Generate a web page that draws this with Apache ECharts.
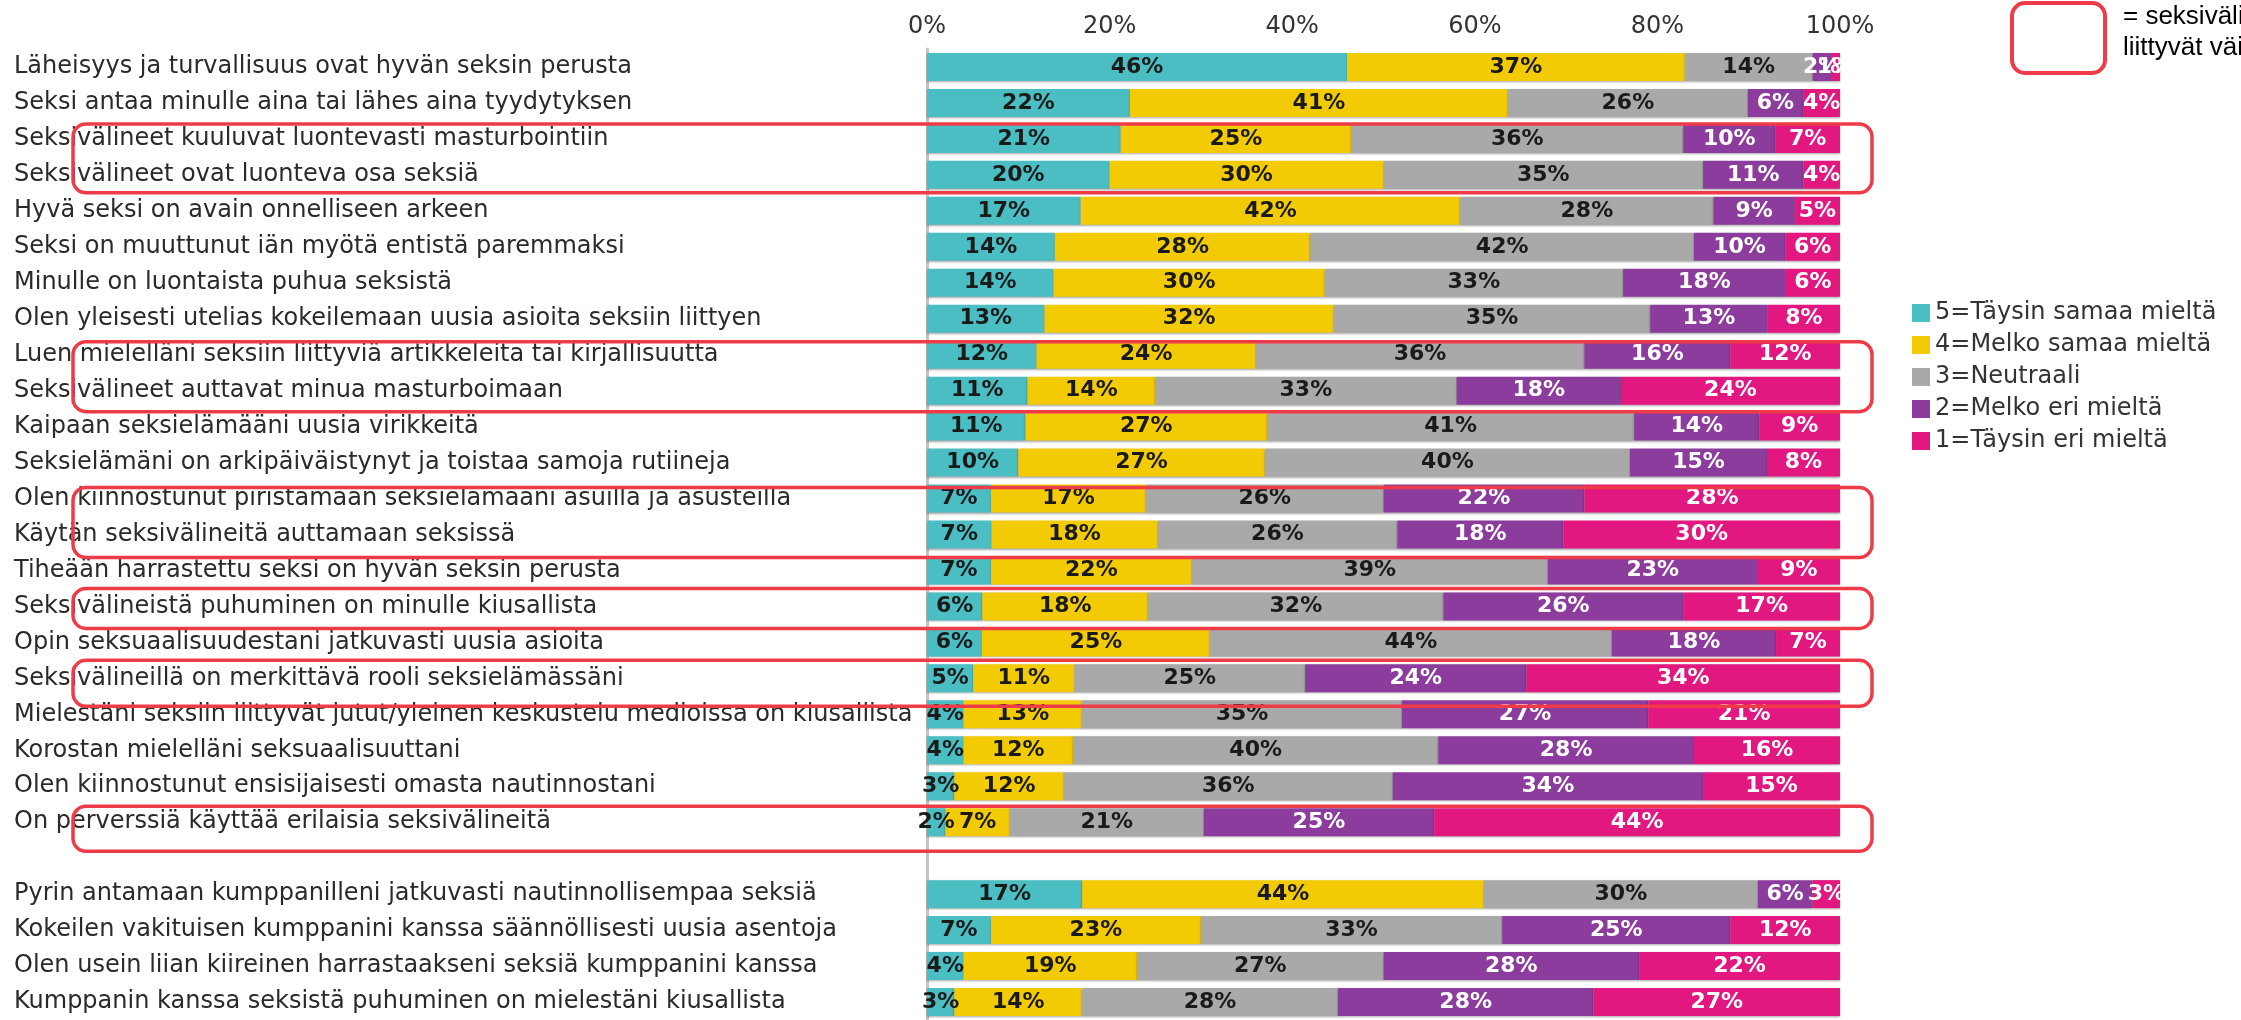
<!DOCTYPE html>
<html>
<head>
<meta charset="utf-8">
<script src="https://cdn.jsdelivr.net/npm/echarts@6/dist/echarts.min.js"></script>
<style>
  html, body { margin: 0; padding: 0; background: #fff; }
  #main { width: 2241px; height: 1020px; }
</style>
</head>
<body>
<div id="main"></div>
<script>
// väittämät ylhäältä alas, tyhjä rivi = väli ryhmien välissä
const statements = [
  "Läheisyys ja turvallisuus ovat hyvän seksin perusta",
  "Seksi antaa minulle aina tai lähes aina tyydytyksen",
  "Seksivälineet kuuluvat luontevasti masturbointiin",
  "Seksivälineet ovat luonteva osa seksiä",
  "Hyvä seksi on avain onnelliseen arkeen",
  "Seksi on muuttunut iän myötä entistä paremmaksi",
  "Minulle on luontaista puhua seksistä",
  "Olen yleisesti utelias kokeilemaan uusia asioita seksiin liittyen",
  "Luen mielelläni seksiin liittyviä artikkeleita tai kirjallisuutta",
  "Seksivälineet auttavat minua masturboimaan",
  "Kaipaan seksielämääni uusia virikkeitä",
  "Seksielämäni on arkipäiväistynyt ja toistaa samoja rutiineja",
  "Olen kiinnostunut piristämään seksielämääni asuilla ja asusteilla",
  "Käytän seksivälineitä auttamaan seksissä",
  "Tiheään harrastettu seksi on hyvän seksin perusta",
  "Seksivälineistä puhuminen on minulle kiusallista",
  "Opin seksuaalisuudestani jatkuvasti uusia asioita",
  "Seksivälineillä on merkittävä rooli seksielämässäni",
  "Mielestäni seksiin liittyvät jutut/yleinen keskustelu medioissa on kiusallista",
  "Korostan mielelläni seksuaalisuuttani",
  "Olen kiinnostunut ensisijaisesti omasta nautinnostani",
  "On perverssiä käyttää erilaisia seksivälineitä",
  "",
  "Pyrin antamaan kumppanilleni jatkuvasti nautinnollisempaa seksiä",
  "Kokeilen vakituisen kumppanini kanssa säännöllisesti uusia asentoja",
  "Olen usein liian kiireinen harrastaakseni seksiä kumppanini kanssa",
  "Kumppanin kanssa seksistä puhuminen on mielestäni kiusallista"
]

// prosentit per vastausvaihtoehto (null = välirivi)
const taysinSamaa = [46, 22, 21, 20, 17, 14, 14, 13, 12, 11, 11, 10, 7, 7, 7, 6, 6, 5, 4, 4, 3, 2, null, 17, 7, 4, 3]
const melkoSamaa  = [37, 41, 25, 30, 42, 28, 30, 32, 24, 14, 27, 27, 17, 18, 22, 18, 25, 11, 13, 12, 12, 7, null, 44, 23, 19, 14]
const neutraali   = [14, 26, 36, 35, 28, 42, 33, 35, 36, 33, 41, 40, 26, 26, 39, 32, 44, 25, 35, 40, 36, 21, null, 30, 33, 27, 28]
const melkoEri    = [2, 6, 10, 11, 9, 10, 18, 13, 16, 18, 14, 15, 22, 18, 23, 26, 18, 24, 27, 28, 34, 25, null, 6, 25, 28, 28]
const taysinEri   = [1, 4, 7, 4, 5, 6, 6, 8, 12, 24, 9, 8, 28, 30, 9, 17, 7, 34, 21, 16, 15, 44, null, 3, 12, 22, 27]

const seriesNames = ["5=Täysin samaa mieltä", "4=Melko samaa mieltä", "3=Neutraali", "2=Melko eri mieltä", "1=Täysin eri mieltä"]
const xTicks = [0, 20, 40, 60, 80, 100]

// seksivälineisiin liittyvät rivit (indeksit) merkitään punaisella kehyksellä
const highlightRows = [[2, 3], [8, 9], [12, 13], [15, 15], [17, 17], [21, 21]]

const colors = ["#4bbec4", "#f2cb05", "#a9a9a9", "#8b3c9c", "#e2177f"]
const labelColors = ["#1a1a1a", "#1a1a1a", "#1a1a1a", "#ffffff", "#ffffff"]
const raw = [taysinSamaa, melkoSamaa, neutraali, melkoEri, taysinEri]

// rivit skaalataan 100 %:iin (pyöristetyt luvut eivät aina summaudu tasan)
const rowSum = statements.map((s, i) => raw.reduce((a, arr) => a + (arr[i] || 0), 0))

const font = "DejaVu Sans"
const chart = echarts.init(document.getElementById("main"))

chart.setOption({
  animation: false,
  textStyle: { fontFamily: font },
  grid: { left: 927, width: 913, top: 49, height: 976 },
  legend: {
    orient: "vertical",
    left: 1907,
    top: 296,
    icon: "rect",
    itemWidth: 18,
    itemHeight: 18,
    itemGap: 8,
    textStyle: { fontSize: 24, color: "#333", fontFamily: font },
    data: seriesNames
  },
  xAxis: {
    type: "value",
    position: "top",
    min: 0,
    max: 100,
    interval: 20,
    axisLine: { show: false },
    axisTick: { show: false },
    splitLine: { show: false },
    axisLabel: {
      margin: 10,
      fontSize: 24,
      color: "#333",
      formatter: v => xTicks.includes(v) ? v + "%" : ""
    }
  },
  yAxis: {
    type: "category",
    inverse: true,
    data: statements,
    axisTick: { show: false },
    axisLine: { show: true, lineStyle: { color: "#c4c4c4", width: 3 } },
    axisLabel: {
      align: "left",
      margin: 913,
      fontSize: 24,
      color: "#2a2a2a",
      interval: 0
    }
  },
  series: raw.map((arr, k) => ({
    name: seriesNames[k],
    type: "bar",
    stack: "all",
    barWidth: 28,
    data: arr.map((v, i) => v == null ? null : v / rowSum[i] * 100),
    itemStyle: {
      color: colors[k],
      shadowColor: "rgba(0,0,0,0.35)",
      shadowBlur: 2,
      shadowOffsetY: 1
    },
    label: {
      show: true,
      position: "inside",
      fontSize: 22,
      fontWeight: "bold",
      fontFamily: font,
      color: labelColors[k],
      formatter: p => arr[p.dataIndex] == null ? "" : arr[p.dataIndex] + "%"
    }
  }))
})

// punaiset kehykset ja selite oikeaan yläkulmaan
const red = "#ef3b47"
const boxPad = [[15, 18], [13, 21], [11, 23], [18, 22], [18, 28], [16, 29]]
const graphics = highlightRows.map((r, n) => {
  const y0 = chart.convertToPixel({ yAxisIndex: 0 }, r[0]) - boxPad[n][0]
  const y1 = chart.convertToPixel({ yAxisIndex: 0 }, r[1]) + boxPad[n][1]
  return {
    type: "rect",
    z: 100,
    shape: { x: 73, y: y0, width: 1799, height: y1 - y0, r: 13 },
    style: { fill: "none", stroke: red, lineWidth: 3.5 }
  }
})
graphics.push({
  type: "rect",
  z: 100,
  shape: { x: 2012, y: 3, width: 93, height: 70, r: 13 },
  style: { fill: "none", stroke: red, lineWidth: 4 }
})
graphics.push({
  type: "text",
  z: 100,
  style: {
    x: 2123, y: 17, text: "= seksivälineisiin",
    font: '26px "Liberation Sans"', fill: "#000", verticalAlign: "middle"
  }
})
graphics.push({
  type: "text",
  z: 100,
  style: {
    x: 2123, y: 48, text: "liittyvät väittämät",
    font: '26px "Liberation Sans"', fill: "#000", verticalAlign: "middle"
  }
})
chart.setOption({ graphic: graphics })
</script>
</body>
</html>
